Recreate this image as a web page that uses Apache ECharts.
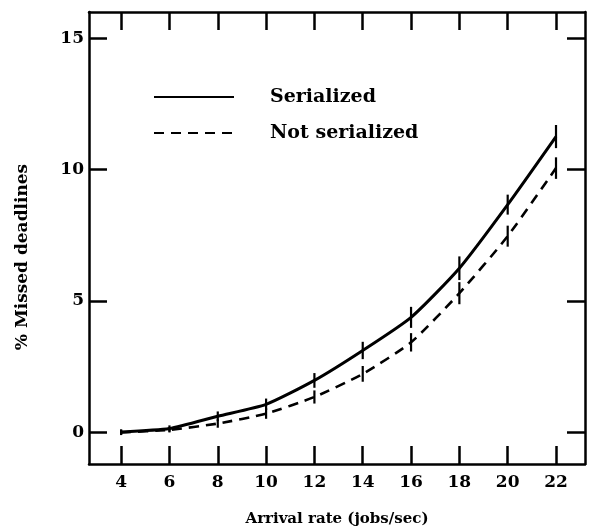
<!DOCTYPE html>
<html>
<head>
<meta charset="utf-8">
<script src="https://cdn.jsdelivr.net/npm/echarts@6/dist/echarts.min.js"></script>
<style>
html,body{margin:0;padding:0;background:#fff;}
#c{width:590px;height:532px;}
</style>
</head>
<body>
<div id="c"></div>
<script>
var arrivalRates = [4, 6, 8, 10, 12, 14, 16, 18, 20, 22];
var serialized = [0.02, 0.15, 0.62, 1.07, 1.98, 3.12, 4.38, 6.25, 8.67, 11.26];
var serializedErr = [0.1, 0.12, 0.18, 0.22, 0.28, 0.33, 0.4, 0.45, 0.38, 0.44];
var notSerialized = [0.0, 0.1, 0.34, 0.72, 1.35, 2.23, 3.43, 5.3, 7.47, 10.06];
var notSerializedErr = [0.1, 0.1, 0.16, 0.2, 0.25, 0.3, 0.35, 0.42, 0.4, 0.41];
var xTicks = [4, 6, 8, 10, 12, 14, 16, 18, 20, 22];
var yTicks = [0, 5, 10, 15];

var FONT = '"DejaVu Serif", "Liberation Serif", serif';

function pairs(ys) { return arrivalRates.map(function (x, i) { return [x, ys[i]]; }); }
function errData(ys, es) { return arrivalRates.map(function (x, i) { return [x, ys[i] - es[i], ys[i] + es[i]]; }); }

function errRender(params, api) {
  var p1 = api.coord([api.value(0), api.value(1)]);
  var p2 = api.coord([api.value(0), api.value(2)]);
  return {
    type: 'line',
    shape: { x1: p1[0], y1: p1[1], x2: p2[0], y2: p2[1] },
    style: { stroke: '#000', lineWidth: 2.2 }
  };
}

var chart = echarts.init(document.getElementById('c'), null, { renderer: 'canvas' });
var axisLineStyle = { color: '#000', width: 2.5 };
var tickStyle = { color: '#000', width: 2.5 };

chart.setOption({
  animation: false,
  backgroundColor: '#fff',
  grid: { left: 89, right: 5, top: 12, bottom: 66 },
  legend: {
    orient: 'vertical',
    left: 148,
    top: 82,
    itemWidth: 80,
    itemHeight: 14,
    itemGap: 16,
    itemStyle: { color: 'rgba(0,0,0,0)', borderWidth: 0, opacity: 0 },
    data: ['Serialized', 'Not serialized'],
    textStyle: { fontFamily: FONT, fontWeight: 'bold', fontSize: 19, lineHeight: 20, color: '#000', padding: [0, 0, 0, 31] }
  },
  xAxis: [{
    type: 'value', min: 2.67, max: 23.2,
    axisLine: { onZero: false, lineStyle: axisLineStyle },
    axisTick: { inside: true, length: 18, lineStyle: tickStyle, customValues: xTicks },
    axisLabel: { customValues: xTicks, fontFamily: FONT, fontWeight: 'bold', fontSize: 17, color: '#000', margin: 10 },
    splitLine: { show: false },
    name: 'Arrival rate (jobs/sec)', nameLocation: 'middle', nameGap: 48,
    nameTextStyle: { fontFamily: FONT, fontWeight: 'bold', fontSize: 15, color: '#000' }
  }, {
    type: 'value', min: 2.67, max: 23.2, position: 'top',
    axisLine: { onZero: false, lineStyle: axisLineStyle },
    axisTick: { inside: true, length: 18, lineStyle: tickStyle, customValues: xTicks },
    axisLabel: { show: false },
    splitLine: { show: false }
  }],
  yAxis: [{
    type: 'value', min: -1.2, max: 16,
    axisLine: { show: true, onZero: false, lineStyle: axisLineStyle },
    axisTick: { show: true, inside: true, length: 18, lineStyle: tickStyle, customValues: yTicks },
    axisLabel: { customValues: yTicks, fontFamily: FONT, fontWeight: 'bold', fontSize: 17, color: '#000', margin: 5 },
    splitLine: { show: false },
    name: '% Missed deadlines', nameLocation: 'middle', nameGap: 58, nameRotate: 90,
    nameTextStyle: { fontFamily: FONT, fontWeight: 'bold', fontSize: 17, color: '#000', padding: [0, 38, 0, 0] }
  }, {
    type: 'value', min: -1.2, max: 16, position: 'right',
    axisLine: { show: true, onZero: false, lineStyle: axisLineStyle },
    axisTick: { show: true, inside: true, length: 18, lineStyle: tickStyle, customValues: yTicks },
    axisLabel: { show: false },
    splitLine: { show: false }
  }],
  series: [{
    name: 'Serialized', type: 'line', data: pairs(serialized), symbol: 'none', smooth: 0.2,
    lineStyle: { color: '#000', width: 3, type: 'solid' }, itemStyle: { color: '#000' }
  }, {
    name: 'Not serialized', type: 'line', data: pairs(notSerialized), symbol: 'none', smooth: 0.2,
    lineStyle: { color: '#000', width: 2.6, type: [10, 7] }, itemStyle: { color: '#000' }
  }, {
    name: 'errS', type: 'custom', data: errData(serialized, serializedErr), renderItem: errRender, z: 3
  }, {
    name: 'errN', type: 'custom', data: errData(notSerialized, notSerializedErr), renderItem: errRender, z: 3
  }]
});
</script>
</body>
</html>
